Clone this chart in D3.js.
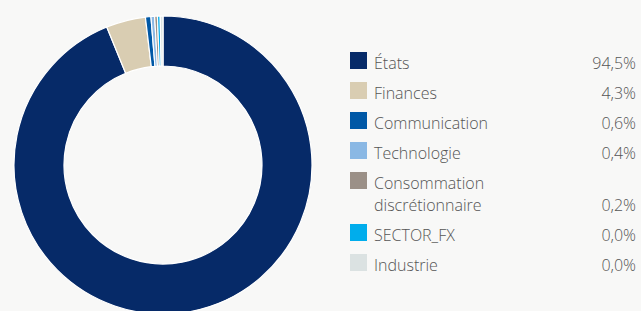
<!DOCTYPE html>
<html>
<head>
<meta charset="utf-8">
<script src="https://cdn.jsdelivr.net/npm/d3@7"></script>
<style>
  html, body { margin: 0; padding: 0; background: #f8f8f7; }
  svg { display: block; }
  text { font-family: 'Open Sans', 'Noto Sans', sans-serif; font-weight: 300; fill: #555555; }
</style>
</head>
<body>
<div id="chart"></div>
<script>
'use strict'

var width = 641
var height = 311

// sectors, in slice order (clockwise from 12 o'clock)
var categories = ['États', 'Finances', 'Communication', 'Technologie', 'Consommation\ndiscrétionnaire', 'SECTOR_FX', 'Industrie']
var values = [94.5, 4.3, 0.6, 0.4, 0.2, 0.0, 0.0]
var labels = ['94,5%', '4,3%', '0,6%', '0,4%', '0,2%', '0,0%', '0,0%']
var colors = ['#062a68', '#d9cdb2', '#0058a6', '#8ab8e4', '#9b9087', '#00adec', '#dbe2e2']

// tiny sectors still get a visible sliver
var minSlice = 0.3

var data = categories.map((c, i) => ({ name: c, value: values[i], label: labels[i], color: colors[i] }))

var svg = d3.select('#chart').append('svg')
  .attr('width', width)
  .attr('height', height)

// ---- donut
var pie = d3.pie().sort(null).value(d => Math.max(d.value, minSlice))
var arc = d3.arc().innerRadius(99).outerRadius(149)

var donut = svg.append('g').attr('transform', 'translate(163,165)')

donut.selectAll('path')
  .data(pie(data))
  .join('path')
  .attr('d', arc)
  .attr('fill', d => d.data.color)
  .attr('stroke', '#ffffff')
  .attr('stroke-width', 1.2)

// ---- legend
var rowY = 52
var legend = svg.append('g')

data.forEach(function (d) {
  var lines = d.name.split('\n')
  var g = legend.append('g').attr('transform', 'translate(0,' + rowY + ')')
  g.append('rect')
    .attr('x', 350).attr('y', 0)
    .attr('width', 17).attr('height', 17)
    .attr('fill', d.color)
  lines.forEach(function (l, j) {
    g.append('text')
      .attr('x', 374)
      .attr('y', 17 + j * 22)
      .style('font-size', '16px')
      .text(l)
  })
  g.append('text')
    .attr('x', 636)
    .attr('y', 17 + (lines.length - 1) * 22)
    .attr('text-anchor', 'end')
    .style('font-size', '16px')
    .text(d.label)
  rowY += 30 + (lines.length - 1) * 22
})
</script>
</body>
</html>
